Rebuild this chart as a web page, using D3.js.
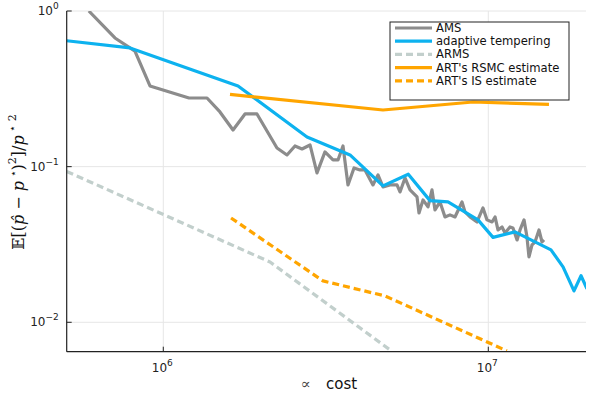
<!DOCTYPE html>
<html>
<head>
<meta charset="utf-8">
<script src="https://cdn.jsdelivr.net/npm/d3@7"></script>
<style>
  body { margin: 0; background: #fff; }
  text { font-family: "DejaVu Sans", sans-serif; }
</style>
</head>
<body>
<svg id="chart" width="598" height="399"></svg>
<script>
// values (cost, relative squared error)
var amsCost = [5.9e5, 7.10e5, 8.18e5, 9.10e5, 1.20e6, 1.363e6, 1.494e6, 1.639e6, 1.784e6, 1.942e6,
  2.238e6, 2.402e6, 2.542e6, 2.672e6, 2.828e6, 2.971e6, 3.144e6, 3.328e6, 3.448e6, 3.572e6,
  3.701e6, 3.862e6, 4.029e6, 4.174e6, 4.417e6, 4.577e6, 4.742e6, 4.983e6, 5.237e6, 5.350e6,
  5.543e6, 5.743e6, 6.035e6, 6.121e6, 6.297e6, 6.524e6, 6.711e6, 6.855e6, 7.102e6, 7.358e6,
  7.623e6, 7.898e6, 8.301e6, 8.479e6, 8.785e6, 9.230e6, 9.631e6, 9.908e6, 1.027e7, 1.049e7,
  1.071e7, 1.102e7, 1.126e7, 1.166e7, 1.191e7, 1.226e7, 1.252e7, 1.288e7, 1.315e7, 1.334e7,
  1.363e7, 1.392e7, 1.432e7, 1.463e7, 1.484e7];
var amsErr = [1.0, 0.671, 0.553, 0.330, 0.276, 0.276, 0.2246, 0.172, 0.218, 0.218,
  0.1318, 0.1189, 0.1358, 0.1299, 0.1378, 0.0911, 0.1243, 0.1104, 0.1104, 0.1358,
  0.0763, 0.0981, 0.0953, 0.0953, 0.0763, 0.0885, 0.0741, 0.0763, 0.0763, 0.0688,
  0.0846, 0.0709, 0.0639, 0.0504, 0.0611, 0.0551, 0.0709, 0.0527, 0.0593, 0.0475,
  0.0490, 0.0475, 0.0593, 0.0512, 0.0475, 0.0441, 0.0543, 0.0455, 0.0441, 0.0475,
  0.0392, 0.0410, 0.0375, 0.0410, 0.0404, 0.0338, 0.0392, 0.0455, 0.0354, 0.0263,
  0.0314, 0.0328, 0.0392, 0.0328, 0.0338];

var atCost = [5.044e5, 7.90e5, 1.698e6, 2.768e6, 3.754e6, 4.742e6, 5.673e6, 6.616e6, 7.516e6,
  9.296e6, 1.034e7, 1.208e7, 1.559e7, 1.698e7, 1.835e7, 1.929e7, 2.012e7];
var atErr = [0.644, 0.579, 0.330, 0.1551, 0.1189, 0.0752, 0.0894, 0.0605, 0.0593,
  0.0455, 0.0351, 0.0381, 0.0292, 0.0227, 0.0159, 0.0199, 0.0164];

var armsCost = [5.044e5, 2.130e6, 4.983e6];
var armsErr = [0.0931, 0.0244, 0.00665];

var rsmcCost = [1.604e6, 4.742e6, 8.972e6, 1.537e7];
var rsmcErr = [0.2909, 0.2312, 0.2603, 0.2509];

var isCost = [1.616e6, 3.100e6, 4.810e6, 1.141e7];
var isErr = [0.0468, 0.01844, 0.01477, 0.00655];

var xTicks = [1e6, 1e7];
var yTicks = [1e-2, 1e-1, 1];

(function() {
  var series = [
    {name: "AMS", x: amsCost, y: amsErr, color: "#8c8c8c", dash: null},
    {name: "adaptive tempering", x: atCost, y: atErr, color: "#0db2ef", dash: null},
    {name: "ARMS", x: armsCost, y: armsErr, color: "#c2cfcc", dash: "7,4"},
    {name: "ART's RSMC estimate", x: rsmcCost, y: rsmcErr, color: "#ffa500", dash: null},
    {name: "ART's IS estimate", x: isCost, y: isErr, color: "#ffa500", dash: "7,4"}
  ];

  var svg = d3.select("#chart");
  var pl = 66.7, pr = 586, pt = 11, pb = 351.7;

  var x = d3.scaleLog().domain([Math.pow(10, 5.7028), Math.pow(10, 7.3006)]).range([pl, pr]);
  var y = d3.scaleLog().domain([Math.pow(10, -2.189), 1]).range([pb, pt]);

  // grid
  svg.append("g").selectAll("line").data(xTicks).enter().append("line")
    .attr("x1", function(d) { return x(d); }).attr("x2", function(d) { return x(d); })
    .attr("y1", pt).attr("y2", pb)
    .style("stroke", "#e6e6e6").style("stroke-width", 1);
  svg.append("g").selectAll("line").data(yTicks).enter().append("line")
    .attr("x1", pl).attr("x2", pr)
    .attr("y1", function(d) { return y(d); }).attr("y2", function(d) { return y(d); })
    .style("stroke", "#e6e6e6").style("stroke-width", 1);

  svg.append("clipPath").attr("id", "clip").append("rect")
    .attr("x", pl).attr("y", pt).attr("width", pr - pl).attr("height", pb - pt);

  var line = d3.line()
    .x(function(d) { return x(d[0]); })
    .y(function(d) { return y(d[1]); });

  var plot = svg.append("g").attr("clip-path", "url(#clip)");
  series.forEach(function(s) {
    plot.append("path")
      .datum(d3.zip(s.x, s.y))
      .attr("d", line)
      .style("fill", "none")
      .style("stroke", s.color)
      .style("stroke-width", 3.2)
      .style("stroke-linejoin", "round")
      .style("stroke-dasharray", s.dash);
  });

  // axes (left + bottom only)
  svg.append("line").attr("x1", pl).attr("x2", pl).attr("y1", pt).attr("y2", pb)
    .style("stroke", "#222").style("stroke-width", 1.2);
  svg.append("line").attr("x1", pl).attr("x2", pr).attr("y1", pb).attr("y2", pb)
    .style("stroke", "#222").style("stroke-width", 1.2);

  function expText(d) {
    var e = Math.round(Math.log10(d));
    return e < 0 ? "\u2212" + (-e) : String(e);
  }

  xTicks.forEach(function(d) {
    svg.append("line").attr("x1", x(d)).attr("x2", x(d)).attr("y1", pb).attr("y2", pb - 5)
      .style("stroke", "#222").style("stroke-width", 1);
    var t = svg.append("text").attr("x", x(d) - 1).attr("y", pb + 20)
      .attr("text-anchor", "middle").style("font-size", "12px").style("fill", "#222");
    t.append("tspan").text("10");
    t.append("tspan").attr("dy", -6).style("font-size", "9px").text(expText(d));
  });

  yTicks.forEach(function(d) {
    svg.append("line").attr("x1", pl).attr("x2", pl + 5).attr("y1", y(d)).attr("y2", y(d))
      .style("stroke", "#222").style("stroke-width", 1);
    var t = svg.append("text").attr("x", pl - 8).attr("y", y(d) + 4)
      .attr("text-anchor", "end").style("font-size", "12px").style("fill", "#222");
    t.append("tspan").text("10");
    t.append("tspan").attr("dy", -6).style("font-size", "9px").text(expText(d));
  });

  // axis labels
  var xl = svg.append("text").attr("x", 329).attr("y", 389).attr("text-anchor", "middle")
    .style("font-size", "15px").style("fill", "#111");
  xl.append("tspan").style("font-family", "DejaVu Serif").style("font-size", "15px")
    .style("fill", "#444").text("\u221d");
  xl.append("tspan").text("\u2003cost");

  var yl = svg.append("text").attr("transform", "translate(24,182) rotate(-90)")
    .attr("text-anchor", "middle").style("font-family", "DejaVu Serif").style("font-size", "16px").style("fill", "#111");
  yl.append("tspan").text("\ud835\udd3c[(");
  yl.append("tspan").style("font-style", "italic").text("p\u0302");
  yl.append("tspan").text(" \u2212 ");
  yl.append("tspan").style("font-style", "italic").text("p");
  yl.append("tspan").attr("dy", -7).style("font-size", "11px").text(" \u22c6");
  yl.append("tspan").attr("dy", 7).text(")");
  yl.append("tspan").attr("dy", -8).style("font-size", "11px").text("2");
  yl.append("tspan").attr("dy", 8).text("]/");
  yl.append("tspan").style("font-style", "italic").text("p");
  yl.append("tspan").attr("dy", -8).style("font-size", "11px").text(" \u22c6 2");

  // legend
  var lg = svg.append("g");
  lg.append("rect").attr("x", 390).attr("y", 22).attr("width", 179).attr("height", 78)
    .style("fill", "#fff").style("stroke", "#222").style("stroke-width", 1);
  series.forEach(function(s, i) {
    var yy = 28 + i * 13.2;
    lg.append("line").attr("x1", 395).attr("x2", 432).attr("y1", yy).attr("y2", yy)
      .style("stroke", s.color).style("stroke-width", 3.2).style("stroke-dasharray", s.dash);
    lg.append("text").attr("x", 436).attr("y", yy + 4).style("font-size", "11.6px").style("fill", "#111")
      .text(s.name);
  });
})();
</script>
</body>
</html>
